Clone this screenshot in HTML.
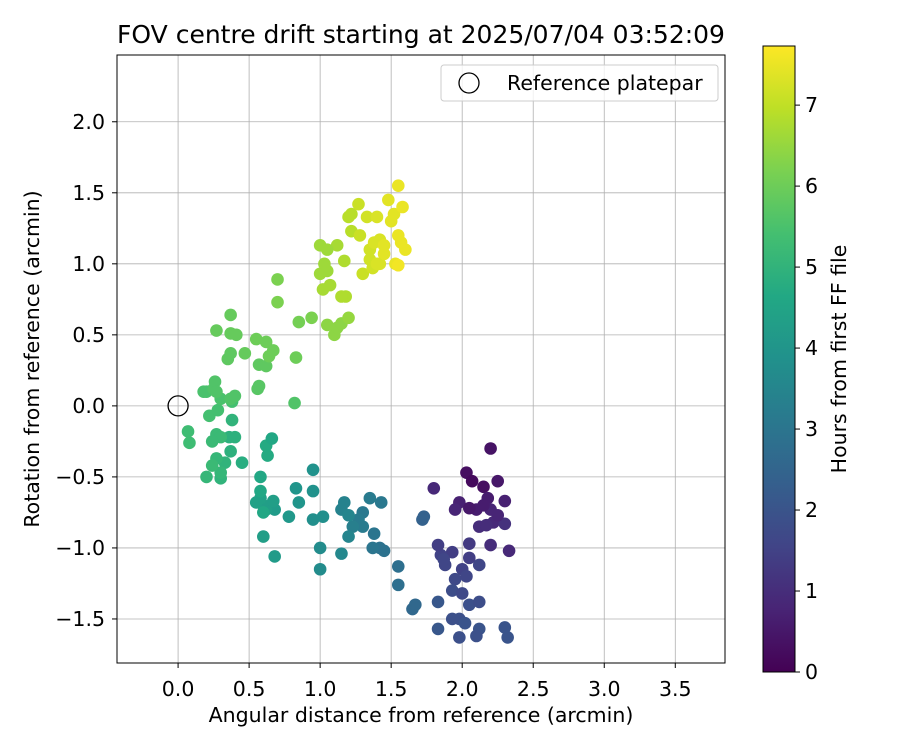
<!DOCTYPE html>
<html><head><meta charset="utf-8"><style>
body{margin:0;background:#fff;font-family:"Liberation Sans","DejaVu Sans",sans-serif}
</style></head><body>
<svg id="c" width="900" height="750" xmlns="http://www.w3.org/2000/svg" style="font-family:'DejaVu Sans','Liberation Sans',sans-serif"></svg>
<script>
const xs=[2.03,2.07,2.2,2.15,2.25,2.18,2.3,2.1,2.2,2.33,2.2,1.98,1.95,1.8,2.12,2.22,2.3,2.25,2.05,2.15,2.17,
1.93,1.85,2.0,1.88,2.05,2.12,1.95,2.03,1.93,2.0,2.05,2.12,1.98,1.93,2.02,2.12,1.98,2.1,2.32,2.3,1.83,1.83,1.83,1.87,2.05,
1.72,1.73,1.65,1.67,1.55,1.55,1.45,1.42,1.37,1.38,1.43,1.35,1.3,1.27,1.3,1.23,
1.15,1.17,1.2,1.2,1.15,1.0,1.0,1.02,0.95,0.95,0.95,0.83,0.85,0.78,0.68,0.68,0.6,0.62,0.6,0.55,0.58,0.67,
0.6,0.63,0.62,0.66,0.58,0.58,0.45,0.4,0.36,0.37,0.38,0.33,0.3,0.3,0.27,0.2,0.24,0.27,0.3,0.24,0.08,0.07,0.22,0.28,0.3,0.38,0.2,0.18,
0.25,0.26,0.27,0.37,0.4,0.35,0.37,0.37,0.41,0.37,0.27,0.47,0.55,0.56,0.57,0.57,0.62,0.62,0.64,0.67,0.7,0.7,0.83,0.85,0.82,0.94,
1.0,1.0,1.03,1.02,1.05,1.07,1.05,1.1,1.12,1.15,1.2,1.12,1.17,1.2,1.22,1.22,1.18,1.15,1.05,
1.27,1.28,1.3,1.33,1.35,1.35,1.37,1.38,1.4,1.42,1.42,1.45,1.48,1.5,1.52,1.55,1.55,1.58,1.6,1.57,1.53,1.55,1.45,1.4];
const ys=[-0.47,-0.53,-0.3,-0.57,-0.53,-0.65,-0.67,-0.73,-0.73,-1.02,-0.98,-0.68,-0.73,-0.58,-0.85,-0.82,-0.83,-0.77,-0.72,-0.70,-0.84,
-1.03,-1.05,-1.15,-1.12,-0.97,-1.12,-1.22,-1.2,-1.3,-1.32,-1.4,-1.38,-1.5,-1.5,-1.53,-1.57,-1.63,-1.62,-1.63,-1.56,-1.57,-1.38,-0.98,-1.08,-1.07,
-0.8,-0.78,-1.43,-1.4,-1.26,-1.13,-1.02,-1.0,-1.0,-0.9,-0.68,-0.65,-0.75,-0.8,-0.85,-0.85,
-0.73,-0.68,-0.77,-0.92,-1.04,-1.15,-1.0,-0.78,-0.8,-0.6,-0.45,-0.58,-0.68,-0.78,-1.06,-0.73,-0.92,-0.73,-0.7,-0.68,-0.65,-0.67,
-0.75,-0.35,-0.28,-0.23,-0.5,-0.6,-0.4,-0.22,-0.22,-0.32,-0.1,-0.4,-0.51,-0.47,-0.37,-0.5,-0.42,-0.2,-0.22,-0.25,-0.26,-0.18,-0.07,-0.03,0.05,0.03,0.1,0.1,
0.12,0.17,0.1,0.05,0.07,0.33,0.37,0.51,0.5,0.64,0.53,0.37,0.47,0.12,0.14,0.29,0.28,0.45,0.35,0.39,0.89,0.73,0.34,0.59,0.02,0.62,
1.13,0.93,1.0,0.82,0.95,0.85,0.57,0.5,0.55,0.58,0.62,1.13,1.02,1.33,1.35,1.23,0.77,0.77,1.1,
1.42,1.2,0.93,1.33,1.1,1.03,0.97,1.15,1.33,1.17,1.0,1.07,1.45,1.3,1.35,1.2,1.55,1.4,1.1,1.15,1.0,0.99,1.13,1.0];
const hs=[0.3,0.2,0.4,0.3,0.5,0.6,0.7,0.6,0.8,0.9,1.0,0.7,0.8,0.9,1.0,0.9,1.1,0.8,0.5,0.6,1.0,
1.4,1.5,1.5,1.6,1.3,1.6,1.7,1.6,1.8,1.7,1.9,1.8,1.9,1.9,2.0,2.0,1.9,1.9,2.0,2.0,2.1,2.1,1.4,1.6,1.4,
2.4,2.4,2.6,2.6,2.8,2.8,2.9,2.9,3.0,3.0,3.1,3.2,3.1,3.2,3.2,3.3,
3.4,3.4,3.5,3.5,3.6,3.7,3.7,3.8,3.8,3.9,3.9,4.0,4.0,4.1,4.2,4.2,4.3,4.3,4.3,4.4,4.4,4.3,
4.6,4.7,4.7,4.6,4.6,4.6,4.8,4.9,4.9,4.9,5.0,5.0,5.0,5.1,5.1,5.1,5.2,5.2,5.2,5.2,5.3,5.3,5.4,5.4,5.5,5.4,5.5,5.5,
5.6,5.6,5.6,5.6,5.6,5.8,5.8,5.9,5.9,5.9,5.9,5.9,6.0,5.7,5.7,5.8,5.8,6.0,6.0,6.0,6.2,6.2,6.0,6.1,5.6,6.2,
6.6,6.6,6.6,6.7,6.6,6.7,6.4,6.4,6.4,6.4,6.5,6.7,6.8,6.9,6.9,6.9,6.8,6.8,6.6,
7.1,7.1,7.1,7.2,7.2,7.2,7.2,7.3,7.3,7.3,7.3,7.4,7.4,7.4,7.4,7.5,7.5,7.5,7.5,7.5,7.5,7.6,7.4,7.3];
const xTicks=[0,0.5,1,1.5,2,2.5,3,3.5], yTicks=[-1.5,-1,-0.5,0,0.5,1,1.5,2], cTicks=[0,1,2,3,4,5,6,7];
const L=117,R=725,T=55,B=663, xmin=-0.43,xmax=3.85,ymin=-1.81,ymax=2.47, HMAX=7.73;
const X=v=>L+(v-xmin)/(xmax-xmin)*(R-L), Y=v=>B-(v-ymin)/(ymax-ymin)*(B-T);
const vir=["#440154","#482475","#414487","#355f8d","#2a788e","#21918c","#22a884","#44bf70","#7ad151","#bddf26","#fde725"];
function hex(c){return [1,3,5].map(i=>parseInt(c.substr(i,2),16));}
function cmap(t){t=Math.max(0,Math.min(1,t));const f=t*10,i=Math.min(9,Math.floor(f)),u=f-i;const a=hex(vir[i]),b=hex(vir[i+1]);return `rgb(${a.map((v,k)=>Math.round(v+(b[k]-v)*u)).join(',')})`;}
const svg=document.getElementById('c');const NS="http://www.w3.org/2000/svg";
function el(t,a,p){const e=document.createElementNS(NS,t);for(const k in a)e.setAttribute(k,a[k]);(p||svg).appendChild(e);return e;}
function txt(s,a,name){const e=el('text',a);e.textContent=s;return e;}
const FS=20.5;
xTicks.forEach(v=>{const g=el('line',{x1:X(v),x2:X(v),y1:T,y2:B,stroke:'#b0b0b0','stroke-width':0.8});
 el('line',{x1:X(v),x2:X(v),y1:B,y2:B+5,stroke:'#000'});
 txt(v.toFixed(1),{x:X(v),y:B+33,'text-anchor':'middle','font-size':FS},'x-tick-label');});
yTicks.forEach(v=>{const g=el('line',{x1:L,x2:R,y1:Y(v),y2:Y(v),stroke:'#b0b0b0','stroke-width':0.8});
 el('line',{x1:L-5,x2:L,y1:Y(v),y2:Y(v),stroke:'#000'});
 txt((v<0?'\u2212':'')+Math.abs(v).toFixed(1),{x:L-12,y:Y(v)+7,'text-anchor':'end','font-size':FS},'y-tick-label');});
xs.forEach((x,i)=>{const c=el('circle',{cx:X(x),cy:Y(ys[i]),r:6.3,fill:cmap(hs[i]/HMAX)});

});
const rc=el('circle',{cx:X(0),cy:Y(0),r:10,fill:'none',stroke:'#000','stroke-width':1.3});

const fr=el('rect',{x:L,y:T,width:R-L,height:B-T,fill:'none',stroke:'#000','stroke-width':1});

const lg=el('rect',{x:441,y:65,width:277,height:36,rx:3,fill:'#fff','fill-opacity':0.8,stroke:'#ccc'});

el('circle',{cx:469,cy:83,r:10,fill:'none',stroke:'#000','stroke-width':1.3});
txt('Reference platepar',{x:507,y:90,'font-size':FS},'legend-label');
txt('FOV centre drift starting at 2025/07/04 03:52:09',{x:421,y:43,'text-anchor':'middle','font-size':25},'chart-title');
txt('Angular distance from reference (arcmin)',{x:421,y:722,'text-anchor':'middle','font-size':FS},'x-axis-title');
txt('Rotation from reference (arcmin)',{x:0,y:0,'text-anchor':'middle','font-size':FS,transform:`translate(39,359) rotate(-90)`},'y-axis-title');
const CT=46,CB=672,CL=763,CR=795;
const defs=el('defs',{});const gr=el('linearGradient',{id:'vg',x1:0,y1:1,x2:0,y2:0},defs);
vir.forEach((c,i)=>el('stop',{offset:i/10,'stop-color':c},gr));
const cb=el('rect',{x:CL,y:CT,width:CR-CL,height:CB-CT,fill:'url(#vg)',stroke:'#000'});

cTicks.forEach(v=>{const y=CB-v/HMAX*(CB-CT);el('line',{x1:CR,x2:CR+5,y1:y,y2:y,stroke:'#000'});
 txt(String(v),{x:CR+10,y:y+7,'font-size':FS},'colorbar-tick-label');});
txt('Hours from first FF file',{x:0,y:0,'text-anchor':'middle','font-size':FS,transform:`translate(846,359) rotate(-90)`},'colorbar-title');
</script>
</body></html>
